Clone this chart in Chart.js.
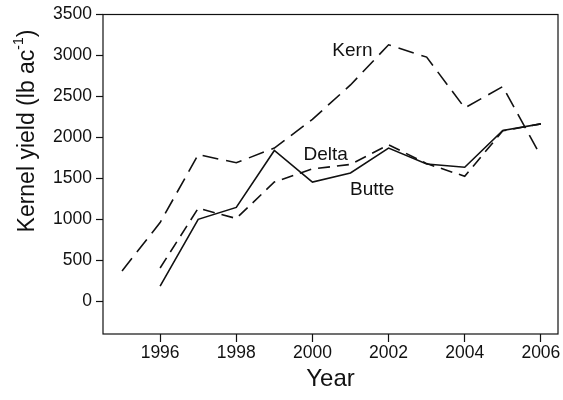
<!DOCTYPE html>
<html>
<head>
<meta charset="utf-8">
<script src="https://cdn.jsdelivr.net/npm/chart.js@4/dist/chart.umd.min.js"></script>
<style>
  html, body { margin: 0; padding: 0; background: #fff; }
  #yieldChart { display: block; }
</style>
</head>
<body>
<canvas id="yieldChart" width="563" height="400"></canvas>
<script>
// Tahun dan hasil panen (lb/ac) tiap wilayah
const years = [1995, 1996, 1997, 1998, 1999, 2000, 2001, 2002, 2003, 2004, 2005, 2006];
const kern  = [370, 960, 1790, 1690, 1870, 2220, 2640, 3130, 2980, 2360, 2620, 1770];
const butte = [null, 185, 1000, 1145, 1840, 1455, 1565, 1870, 1675, 1635, 2085, 2165];
const delta = [null, 405, 1135, 1010, 1455, 1615, 1670, 1910, 1680, 1525, 2080, 2165];
const xTicks = [1996, 1998, 2000, 2002, 2004, 2006];
const yTicks = [0, 500, 1000, 1500, 2000, 2500, 3000, 3500];

// Label teks di dalam plot (koordinat data)
const seriesLabels = [
    { text: 'Kern',  x: 2001.05, y: 3060 },
    { text: 'Delta', x: 2000.35, y: 1790 },
    { text: 'Butte', x: 2001.57, y: 1355 }
];

function toPoints(values) {
    return years.map((yr, i) => ({ x: yr, y: values[i] })).filter(p => p.y !== null);
}

const inkColor = '#111';
const fontFamily = '"Liberation Sans", Arial, sans-serif';

// Plugin: kotak plot, label seri, judul sumbu
const decorPlugin = {
    id: 'decor',
    afterDraw(chart) {
        const { ctx, chartArea: a, scales } = chart;
        ctx.save();
        ctx.strokeStyle = inkColor;
        ctx.lineWidth = 1.2;
        ctx.strokeRect(a.left, a.top, a.right - a.left, a.bottom - a.top);

        ctx.fillStyle = inkColor;
        ctx.font = '19px ' + fontFamily;
        ctx.textAlign = 'center';
        ctx.textBaseline = 'middle';
        seriesLabels.forEach(l => {
            ctx.fillText(l.text, scales.x.getPixelForValue(l.x), scales.y.getPixelForValue(l.y));
        });

        // Judul sumbu X
        ctx.font = '24px ' + fontFamily;
        ctx.fillText('Year', (a.left + a.right) / 2, 379);

        // Judul sumbu Y dengan superscript
        ctx.translate(28, 131);
        ctx.rotate(-Math.PI / 2);
        const main = 'Kernel yield (lb ac';
        const sup = '-1';
        const close = ')';
        ctx.font = '23px ' + fontFamily;
        const wMain = ctx.measureText(main).width;
        const wClose = ctx.measureText(close).width;
        ctx.font = '14px ' + fontFamily;
        const wSup = ctx.measureText(sup).width;
        const total = wMain + wSup + wClose;
        let x0 = -total / 2;
        ctx.textAlign = 'left';
        ctx.font = '23px ' + fontFamily;
        ctx.fillText(main, x0, 0);
        ctx.font = '14px ' + fontFamily;
        ctx.fillText(sup, x0 + wMain, -9);
        ctx.font = '23px ' + fontFamily;
        ctx.fillText(close, x0 + wMain + wSup, 0);
        ctx.restore();
    }
};

const ctx = document.getElementById('yieldChart').getContext('2d');
const yieldChart = new Chart(ctx, {
    type: 'line',
    data: {
        datasets: [
            {
                label: 'Kern',
                data: toPoints(kern),
                borderColor: inkColor,
                borderWidth: 1.6,
                borderDash: [16, 8],
                pointRadius: 0,
                tension: 0,
                fill: false
            },
            {
                label: 'Butte',
                data: toPoints(butte),
                borderColor: inkColor,
                borderWidth: 1.6,
                pointRadius: 0,
                tension: 0,
                fill: false
            },
            {
                label: 'Delta',
                data: toPoints(delta),
                borderColor: inkColor,
                borderWidth: 1.6,
                borderDash: [12, 7],
                pointRadius: 0,
                tension: 0,
                fill: false
            }
        ]
    },
    options: {
        responsive: false,
        animation: false,
        devicePixelRatio: 1,
        layout: { padding: { left: 0, right: 5, top: 13, bottom: 0 } },
        plugins: {
            legend: { display: false },
            tooltip: { enabled: false }
        },
        scales: {
            x: {
                type: 'linear',
                min: 1994.5,
                max: 2006.45,
                afterBuildTicks: s => { s.ticks = xTicks.map(v => ({ value: v })); },
                afterFit: s => { s.height = 66; },
                grid: { drawOnChartArea: false, color: inkColor, tickLength: 8, tickWidth: 1.2 },
                border: { display: false },
                ticks: {
                    color: inkColor,
                    font: { family: fontFamily, size: 17.5 },
                    padding: 1,
                    maxRotation: 0,
                    callback: v => String(v)
                }
            },
            y: {
                min: -400,
                max: 3500,
                afterBuildTicks: s => { s.ticks = yTicks.map(v => ({ value: v })); },
                afterFit: s => { s.width = 103; },
                grid: { drawOnChartArea: false, color: inkColor, tickLength: 7, tickWidth: 1.2 },
                border: { display: false },
                ticks: {
                    color: inkColor,
                    font: { family: fontFamily, size: 17.5 },
                    padding: 4,
                    callback: v => String(v)
                }
            }
        }
    },
    plugins: [decorPlugin]
});
</script>
</body>
</html>
